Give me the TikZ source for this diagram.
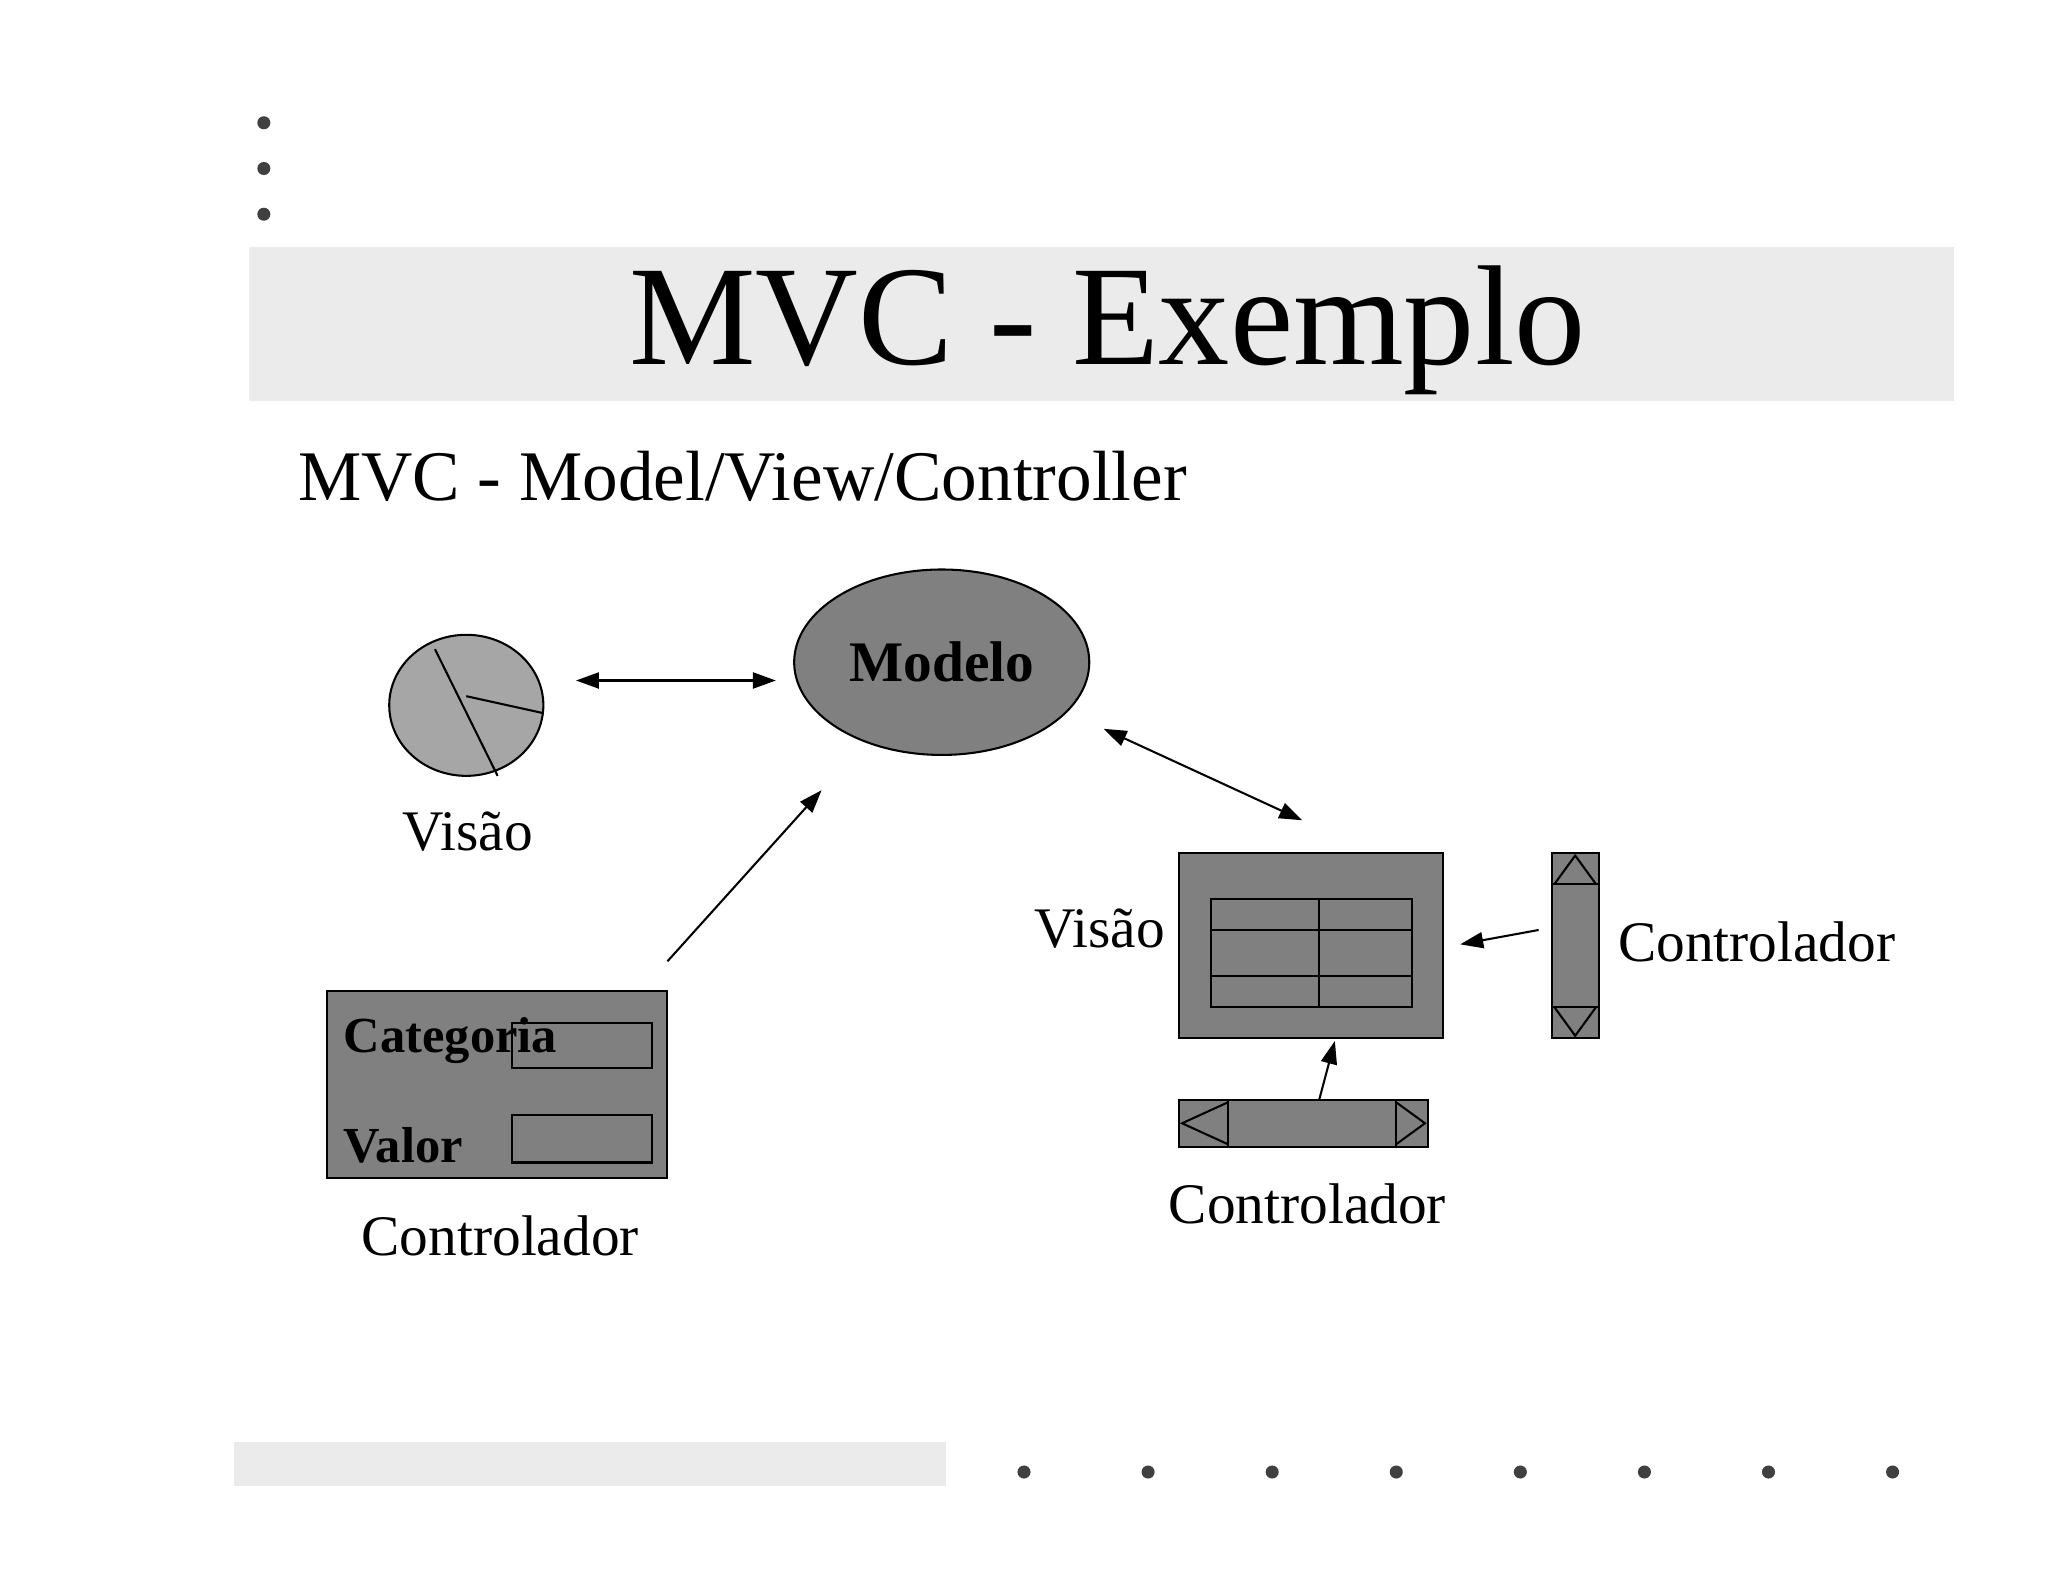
\documentclass[tikz,border=0pt]{standalone}
\usepackage{fontspec}
\setmainfont{Liberation Serif}
\usetikzlibrary{arrows.meta,shapes.geometric}
\begin{document}
\begin{tikzpicture}[x=0.02cm,y=-0.02cm,
  arr/.style={-{Triangle[length=10pt,width=7pt]},line width=0.9pt},
  darr/.style={{Triangle[length=10pt,width=7pt]}-{Triangle[length=10pt,width=7pt]},line width=0.9pt},
  box/.style={draw,fill=black!50,line width=0.9pt},
  lbl/.style={font=\fontsize{25}{28}\selectfont},
  dot/.style={fill=black!75}]
\useasboundingbox (0,0) rectangle (1568,1211);
\foreach \y in {94,129,164} \fill[dot] (202,\y) circle (5);
\fill[black!8] (191,189) rectangle (1496,307);
\node (title) at (848,253) {\fontsize{62}{70}\selectfont MVC - Exemplo};
\node[anchor=west] (sub) at (222,365) {\fontsize{31}{36}\selectfont MVC - Model/View/Controller};
% pie
\draw[fill=black!35,line width=0.9pt] (357,540) ellipse (59 and 54);
\draw[line width=0.9pt] (333,497) -- (381,594);
\draw[line width=0.9pt] (357,533) -- (416,546);
\coordinate (pieR) at (441,521);
\coordinate (modL) at (594,521);
\draw[darr] (pieR) -- (modL);
\node[draw,ellipse,fill=black!50,line width=0.9pt,inner sep=0,minimum width=4.52cm,minimum height=2.84cm,font=\fontsize{25}{28}\selectfont\bfseries] (modelo) at (721,507) {Modelo};
\node[lbl] (v1) at (358,637) {Visão};
\coordinate (c1a) at (511,736);
\coordinate (c1b) at (629,605);
\draw[arr] (c1a) -- (c1b);
% form controller
\draw[box] (250,759) rectangle (511,902);
\draw[box] (392,783) rectangle (499,818);
\draw[box] (392,854) rectangle (499,890);
\node[anchor=west,inner sep=0,font=\fontsize{22}{24}\selectfont\bfseries] (cat) at (263,797) {Categoria};
\node[anchor=west,inner sep=0,font=\fontsize{22}{24}\selectfont\bfseries] (val) at (263,877) {Valor};
\node[lbl] (ctl1) at (383,946) {Controlador};
% right
\coordinate (m2a) at (845,558);
\coordinate (m2b) at (997,628);
\draw[darr] (m2a) -- (m2b);
\draw[box] (903,653) rectangle (1105,795);
\draw[box] (927,688) rectangle (1081,771);
\draw[line width=0.9pt] (1010,688) -- (1010,771) (927,712) -- (1081,712) (927,747) -- (1081,747);
\node[lbl] (v2) at (842,711) {Visão};
\draw[box] (1188,653) rectangle (1224,795);
\draw[line width=0.9pt] (1188,677) -- (1224,677) (1188,771) -- (1224,771);
\draw[line width=0.9pt] (1190,677) -- (1206,655) -- (1222,677);
\draw[line width=0.9pt] (1190,771) -- (1206,793) -- (1222,771);
\coordinate (s1a) at (1178,712);
\coordinate (s1b) at (1118,723);
\draw[arr] (s1a) -- (s1b);
\node[lbl] (ctl2) at (1345,721) {Controlador};
\draw[box] (903,842) rectangle (1093,878);
\draw[line width=0.9pt] (940,842) -- (940,878) (1069,842) -- (1069,878);
\draw[line width=0.9pt] (940,844) -- (905,860) -- (940,876);
\draw[line width=0.9pt] (1069,844) -- (1091,860) -- (1069,876);
\coordinate (s2a) at (1010,842);
\coordinate (s2b) at (1022,797);
\draw[arr] (s2a) -- (s2b);
\node[lbl] (ctl3) at (1001,922) {Controlador};
% footer
\fill[black!8] (179,1104) rectangle (724,1138);
\foreach \x in {784,879,974,1069,1164,1259,1354,1449} \fill[dot] (\x,1127) circle (5);
\end{tikzpicture}
\end{document}
